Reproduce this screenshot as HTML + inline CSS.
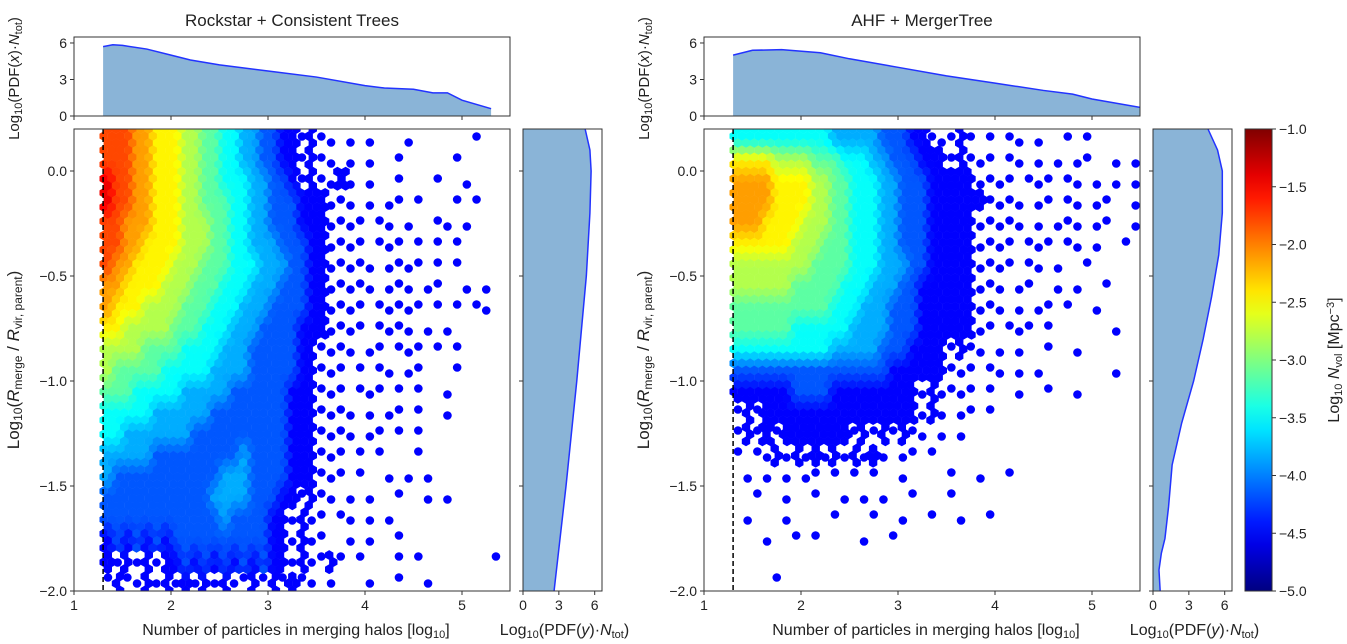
<!DOCTYPE html>
<html><head><meta charset="utf-8"><style>
html,body{margin:0;padding:0;background:#fff;}
svg{display:block;font-family:"Liberation Sans","DejaVu Sans",sans-serif;}
</style></head><body>
<svg id="fig" width="1347" height="644" viewBox="0 0 1347 644" xmlns="http://www.w3.org/2000/svg"></svg>
<script>
// ---- data ----
const xTicks = [1, 2, 3, 4, 5];
const yTicks = [0.0, -0.5, -1.0, -1.5, -2.0];
const pdfTicks = [0, 3, 6];
const cbTicks = [-1.0, -1.5, -2.0, -2.5, -3.0, -3.5, -4.0, -4.5, -5.0];
const gridX0 = 1.3, gridDX = 0.1, gridY0 = 0.2, gridDY = 0.1;
// density level per cell: ' ' empty, '.' sparse, '0'-'9' log density levels
const leftGrid = [
"88877666554433221100.0.. . .   .      .   ",
"88877666554433221100.0.. . .  .     .    ",
"98877666554433322110.0..0. .  .   .  .   ",
"98877666554443322111000... . .. .   . .  ",
"88777666555443322111000.... .. .  .. .  ",
"88776666555443322211100.... ... . . .",
"87766665554443332221100..... .... . .",
"77666655544433322211100..... ... ..  . .  . ",
"76665555444333222111100.... ..... . . ..  .",
"66555554443332221111000.... .... . .",
"5555444433332221111100.... .. ... . .",
"5444443333322221111100... . .. ..   . ",
"4443333322222111111000... ... . .  .",
"3333322222211111111000.... . .. .  . ",
"3322222221111111111000.... .. . .  ",
"2222211111111121111000... . .   .",
"2111111111112221111000... .  . . .",
"11111111111222211100.0.. . .  .  . .",
"1111111111112111100.0.. .. . .",
"0101010111111111100.0..  . .  .",
"0.0.0.0010101010100.0..0. .   . .       . .",
".0..0.0.0.0.0..0.0.0.. .   .  .  ."
];
const rightGrid = [
"33333333332222211100...0. . .. .  . .     ",
"6666555544433322111000.0... .. . . ..  . . ",
"7777666655443332211100000.... ... .. . . .  . ",
"77776666554433322111000000.... .. .. ..  ..  .",
"7776666555443332211100000..... . ... ..  . . .",
"6666665554443332211100000.... ... .. .  .",
"5555555544443332221100000.... .. .  .       .",
"5555554444433322211000000... ..  . .  .",
"4444444444333222111000000... . .. .  .",
"4444443333332222111000000.. ... .      .",
"3333333333222221110000.0.. . .  .  .",
"1111111111111111000000... .. . .       .",
"0000001111000000000.0.... .  .  .  .",
".0.0000000000000000.0. .. .",
".0.0.0000000.0.0.0.. . .  ",
". ..0.0.0.0.0.0. .. .",
" . . . .. . . .  .    .  .  .",
"  .  .  .  . . .  .   .",
" .   .    .   .  .  .  .  .",
"   .  . .    .  .",
"",
"    .  "
];
const leftPdfXx = [1.3, 1.4, 1.5, 1.75, 2.0, 2.2, 2.5, 3.0, 3.5, 4.0, 4.2, 4.5, 4.7, 4.85, 5.0, 5.3];
const leftPdfXv = [5.7, 5.85, 5.8, 5.5, 5.0, 4.6, 4.2, 3.7, 3.2, 2.5, 2.3, 2.2, 1.9, 1.9, 1.3, 0.6];
const rightPdfXx = [1.3, 1.5, 1.8, 2.2, 2.5, 3.0, 3.5, 4.0, 4.5, 4.8, 5.0, 5.5];
const rightPdfXv = [5.0, 5.4, 5.45, 5.2, 4.7, 4.0, 3.3, 2.7, 2.1, 1.8, 1.4, 0.7];
const leftPdfYy = [0.2, 0.1, 0.0, -0.2, -0.5, -1.0, -1.5, -2.0];
const leftPdfYv = [5.2, 5.6, 5.7, 5.6, 5.3, 4.5, 3.6, 2.6];
const rightPdfYy = [0.2, 0.1, 0.0, -0.2, -0.4, -0.6, -0.8, -1.0, -1.2, -1.4, -1.6, -1.75, -1.82, -1.9, -2.0];
const rightPdfYv = [4.6, 5.4, 5.8, 5.8, 5.5, 4.9, 4.2, 3.4, 2.4, 1.6, 1.3, 1.0, 0.7, 0.5, 0.6];

// ---- helpers ----
const NS = "http://www.w3.org/2000/svg";
const svg = document.getElementById('fig');
function mk(tag, attrs, parent) {
  const e = document.createElementNS(NS, tag);
  for (const k in attrs) e.setAttribute(k, attrs[k]);
  (parent || svg).appendChild(e);
  return e;
}
function jet(t) {
  t = Math.max(0, Math.min(1, t));
  const r = Math.max(0, Math.min(1, 1.5 - Math.abs(4 * t - 3)));
  const g = Math.max(0, Math.min(1, 1.5 - Math.abs(4 * t - 2)));
  const b = Math.max(0, Math.min(1, 1.5 - Math.abs(4 * t - 1)));
  return `rgb(${Math.round(r*255)},${Math.round(g*255)},${Math.round(b*255)})`;
}
function levelColor(d) { const v = -4.5 + d * 0.34; return jet((v + 5) / 4); }

const TOP = 129, BOT = 591, UNITX = 97, UNITY = 210;
const MT = 37, MB = 116, PU = 12.17;

function cellAt(grid, ri, ci) {
  if (ri < 0 || ri >= grid.length) return null;
  const ch = grid[ri][ci];
  if (ch === undefined || ch === ' ' || ch === '.') return null;
  return +ch;
}
function hexPts(cx, cy, r) {
  let s = [];
  for (let k = 0; k < 6; k++) {
    const a = Math.PI / 6 + k * Math.PI / 3;
    s.push((cx + r * Math.cos(a)).toFixed(1) + ',' + (cy + r * Math.sin(a)).toFixed(1));
  }
  return s.join(' ');
}

function panel(cfg) {
  const X0 = cfg.x0, XR = cfg.xr;
  const sx = v => X0 + (v - 1) * UNITX;
  const sy = v => TOP + (0.2 - v) * UNITY;
  const g = mk('g', {});
  
  
  const cid = cfg.name + '-clip';
  const cp = mk('clipPath', {id: cid}, g);
  mk('rect', {x: X0, y: TOP, width: XR - X0, height: BOT - TOP}, cp);
  const cells = mk('g', {'clip-path': `url(#${cid})`}, g);
  
  
  const grid = cfg.grid;
  grid.forEach((row, ri) => {
    for (let ci = 0; ci < row.length; ci++) {
      if (row[ci] !== '.') continue;
      const xa = gridX0 + (ci + 0.5) * gridDX, ya = gridY0 - (ri + 0.5) * gridDY;
      const c = mk('circle', {cx: sx(xa), cy: sy(ya) + ((ci % 2) ? 3 : -3), r: 4.3, fill: '#0000ff'}, cells);
      
      
    }
  });
  const HX = 8.2, HY = 7.1, HR = 4.9;
  let row = 0;
  for (let py = TOP; py < BOT + HY; py += HY, row++) {
    for (let px = X0 + 1 + (row % 2 ? HX / 2 : 0); px < XR + HX; px += HX) {
      const fx = ((px - X0) / UNITX + 1 - gridX0) / gridDX;
      const gy = (gridY0 - (0.2 - (py - TOP) / UNITY)) / gridDY;
      const ci = Math.floor(fx), ri = Math.floor(gy);
      if (cellAt(grid, ri, ci) === null) continue;
      const ux = fx - 0.5, uy = gy - 0.5;
      const i0 = Math.floor(ux), j0 = Math.floor(uy);
      const wx = ux - i0, wy = uy - j0;
      let s = 0, w = 0;
      [[0,0,(1-wx)*(1-wy)],[1,0,wx*(1-wy)],[0,1,(1-wx)*wy],[1,1,wx*wy]].forEach(q => {
        const v = cellAt(grid, j0 + q[1], i0 + q[0]);
        if (v !== null) { s += v * q[2]; w += q[2]; }
      });
      const lv = w > 0 ? s / w : cellAt(grid, ri, ci);
      const h = mk('polygon', {points: hexPts(px, py, HR), fill: levelColor(lv)}, cells);
      
      
    }
  }
  const dl = mk('line', {x1: sx(1.3), x2: sx(1.3), y1: TOP, y2: BOT, stroke: '#000', 'stroke-width': 1.5, 'stroke-dasharray': '5,3'}, g);
  
  
  mk('rect', {x: X0, y: TOP, width: XR - X0, height: BOT - TOP, fill: 'none', stroke: '#333', 'stroke-width': 1}, g);
  xTicks.forEach(t => {
    const x = sx(t);
    mk('line', {x1: x, x2: x, y1: BOT, y2: BOT + 4, stroke: '#333'}, g);
    const tx = mk('text', {x: x, y: BOT + 19, 'text-anchor': 'middle', 'font-size': 14, fill: '#222'}, g);
    tx.textContent = t;
    
    
    mk('line', {x1: x, x2: x, y1: MB, y2: MB + 4, stroke: '#333'}, g);
  });
  yTicks.forEach(t => {
    const y = sy(t);
    mk('line', {x1: X0 - 4, x2: X0, y1: y, y2: y, stroke: '#333'}, g);
    const tx = mk('text', {x: X0 - 7, y: y + 5, 'text-anchor': 'end', 'font-size': 14, fill: '#222'}, g);
    tx.textContent = (t === 0 ? '0.0' : '\u2212' + Math.abs(t).toFixed(1));
    
    
    mk('line', {x1: cfg.rx0 - 4, x2: cfg.rx0, y1: y, y2: y, stroke: '#333'}, g);
  });
  const xl = mk('text', {x: (X0 + XR) / 2 + 4, y: 635, 'text-anchor': 'middle', 'font-size': 16, fill: '#222'}, g);
  xl.innerHTML = 'Number of particles in merging halos [log<tspan font-size="11" dy="3">10</tspan><tspan dy="-3">]</tspan>';
  
  
  const yl = mk('text', {x: 0, y: 0, 'text-anchor': 'middle', 'font-size': 17, fill: '#222', transform: `translate(${X0 - 55},${(TOP + BOT) / 2}) rotate(-90)`}, g);
  yl.innerHTML = 'Log<tspan font-size="12" dy="3">10</tspan><tspan dy="-3">(</tspan><tspan font-style="italic">R</tspan><tspan font-size="12" dy="3">merge</tspan><tspan dy="-3"> / </tspan><tspan font-style="italic">R</tspan><tspan font-size="12" dy="3">vir, parent</tspan><tspan dy="-3">)</tspan>';
  
  
  const tt = mk('text', {x: (X0 + XR) / 2, y: 26, 'text-anchor': 'middle', 'font-size': 17, fill: '#222'}, g);
  tt.textContent = cfg.title;
  
  

  const py = v => MB - v * PU;
  const cid2 = cfg.name + '-clipt';
  const cp2 = mk('clipPath', {id: cid2}, g);
  mk('rect', {x: X0, y: MT, width: XR - X0, height: MB - MT}, cp2);
  let pts = cfg.pxX.map((x, i) => `${sx(x)},${py(cfg.pxV[i])}`);
  const xa0 = sx(cfg.pxX[0]), xa1 = sx(cfg.pxX[cfg.pxX.length - 1]);
  const ta = mk('polygon', {points: `${xa0},${MB} ` + pts.join(' ') + ` ${xa1},${MB}`, fill: '#8ab4d7', 'clip-path': `url(#${cid2})`}, g);
  
  
  const tl = mk('polyline', {points: pts.join(' '), fill: 'none', stroke: '#2233ff', 'stroke-width': 1.5, 'clip-path': `url(#${cid2})`}, g);
  
  
  mk('rect', {x: X0, y: MT, width: XR - X0, height: MB - MT, fill: 'none', stroke: '#333'}, g);
  pdfTicks.forEach(t => {
    mk('line', {x1: X0 - 4, x2: X0, y1: py(t), y2: py(t), stroke: '#333'}, g);
    const tx = mk('text', {x: X0 - 7, y: py(t) + 5, 'text-anchor': 'end', 'font-size': 14, fill: '#222'}, g);
    tx.textContent = t;
    
    
  });
  const tyl = mk('text', {x: 0, y: 0, 'text-anchor': 'middle', 'font-size': 15, fill: '#222', transform: `translate(${X0 - 55},${(MT + MB) / 2 + 2}) rotate(-90)`}, g);
  tyl.innerHTML = 'Log<tspan font-size="11" dy="3">10</tspan><tspan dy="-3">(PDF(</tspan><tspan font-style="italic">x</tspan>)·<tspan font-style="italic">N</tspan><tspan font-size="11" dy="3">tot</tspan><tspan dy="-3">)</tspan>';
  
  

  const RX0 = cfg.rx0, RX1 = cfg.rx1;
  const rx = v => RX0 + v * 11.95;
  let rpts = cfg.pyY.map((y, i) => `${rx(cfg.pyV[i])},${sy(y)}`);
  const ra = mk('polygon', {points: `${RX0},${TOP} ` + rpts.join(' ') + ` ${RX0},${BOT}`, fill: '#8ab4d7'}, g);
  
  
  const rl = mk('polyline', {points: rpts.join(' '), fill: 'none', stroke: '#2233ff', 'stroke-width': 1.5}, g);
  
  
  mk('rect', {x: RX0, y: TOP, width: RX1 - RX0, height: BOT - TOP, fill: 'none', stroke: '#333'}, g);
  pdfTicks.forEach(t => {
    mk('line', {x1: rx(t), x2: rx(t), y1: BOT, y2: BOT + 4, stroke: '#333'}, g);
    const tx = mk('text', {x: rx(t), y: BOT + 19, 'text-anchor': 'middle', 'font-size': 14, fill: '#222'}, g);
    tx.textContent = t;
    
    
  });
  const rxl = mk('text', {x: (RX0 + RX1) / 2 + 2, y: 635, 'text-anchor': 'middle', 'font-size': 16, fill: '#222'}, g);
  rxl.innerHTML = 'Log<tspan font-size="11" dy="3">10</tspan><tspan dy="-3">(PDF(</tspan><tspan font-style="italic">y</tspan>)·<tspan font-style="italic">N</tspan><tspan font-size="11" dy="3">tot</tspan><tspan dy="-3">)</tspan>';
  
  
}

panel({name: 'rockstar', title: 'Rockstar + Consistent Trees', x0: 74, xr: 510, rx0: 523, rx1: 602, grid: leftGrid,
  pxX: leftPdfXx, pxV: leftPdfXv, pyY: leftPdfYy, pyV: leftPdfYv});
panel({name: 'ahf', title: 'AHF + MergerTree', x0: 704, xr: 1140, rx0: 1153, rx1: 1232, grid: rightGrid,
  pxX: rightPdfXx, pxV: rightPdfXv, pyY: rightPdfYy, pyV: rightPdfYv});

const CB0 = 1245, CB1 = 1272;
const defs = mk('defs', {});
const lg = mk('linearGradient', {id: 'jetg', x1: 0, y1: 1, x2: 0, y2: 0}, defs);
for (let i = 0; i <= 20; i++) mk('stop', {offset: i / 20, 'stop-color': jet(i / 20)}, lg);
const cb = mk('rect', {x: CB0, y: TOP, width: CB1 - CB0, height: BOT - TOP, fill: 'url(#jetg)', stroke: '#333'});


const cby = v => TOP + (-1 - v) / 4 * (BOT - TOP);
cbTicks.forEach(t => {
  mk('line', {x1: CB1, x2: CB1 + 4, y1: cby(t), y2: cby(t), stroke: '#333'});
  const tx = mk('text', {x: CB1 + 7, y: cby(t) + 5, 'font-size': 14, fill: '#222'});
  tx.textContent = '\u2212' + Math.abs(t).toFixed(1);
  
  
});
const cbl = mk('text', {x: 0, y: 0, 'text-anchor': 'middle', 'font-size': 16, fill: '#222', transform: `translate(1339,${(TOP + BOT) / 2}) rotate(-90)`});
cbl.innerHTML = 'Log<tspan font-size="11" dy="3">10</tspan><tspan dy="-3"> </tspan><tspan font-style="italic">N</tspan><tspan font-size="11" dy="3">vol</tspan><tspan dy="-3"> [Mpc</tspan><tspan font-size="11" dy="-5">−3</tspan><tspan dy="5">]</tspan>';


</script>
</body></html>
